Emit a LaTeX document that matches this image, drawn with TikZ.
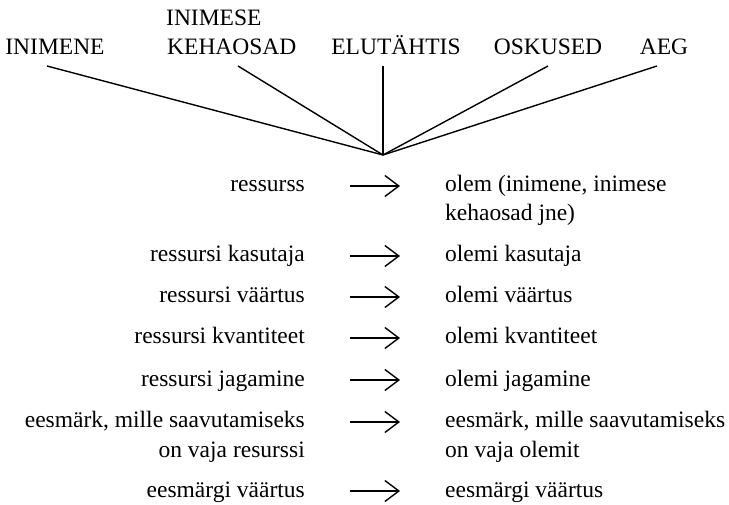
\documentclass[tikz,border=0pt]{standalone}
\usepackage{fontspec}
\setmainfont{Liberation Serif}
\usetikzlibrary{arrows.meta}
\tikzset{
  lbl/.style={inner sep=0pt, font=\fontsize{23.5}{29.5}\selectfont},
  top/.style={lbl, anchor=base},
  lft/.style={lbl, anchor=base east},
  rgt/.style={lbl, anchor=base west},
  ray/.style={line width=1.4pt},
  maps/.style={line width=1.4pt, -{Straight Barb[length=14pt,width=21pt,line width=1.4pt]}, shorten <=45pt, shorten >=45pt}
}
\begin{document}
\begin{tikzpicture}[x=1pt,y=-1pt]
\useasboundingbox (0,0) rectangle (729,505);
% top labels
\node[top] (inimene) at (55,55) {INIMENE};
\node[lbl, anchor=base west] (inimese) at (166,26) {INIMESE};
\node[lbl, anchor=base west] (kehaosad) at (167,55) {KEHAOSAD};
\node[top] (elu) at (396,55) {ELUTÄHTIS};
\node[top] (osk) at (548,55) {OSKUSED};
\node[top] (aeg) at (664,55) {AEG};
\coordinate (c) at (383,155);
\draw[ray] ([shift={(-8,11)}]inimene.base) -- (c);
\draw[ray] ([shift={(71,11)}]kehaosad.base west) -- (c);
\draw[ray] ([shift={(-13,11)}]elu.base) -- (c);
\draw[ray] ([shift={(0,11)}]osk.base) -- (c);
\draw[ray] ([shift={(-7,11)}]aeg.base) -- (c);
% rows
\node[lft] (l1) at (305,192) {ressurss};
\node[rgt] (r1) at (445,192) {olem (inimene, inimese};
\node[rgt] (r1b) at (445,221) {kehaosad jne)};
\node[lft] (l2) at (305,262) {ressursi kasutaja};
\node[rgt] (r2) at (445,262) {olemi kasutaja};
\node[lft] (l3) at (305,303) {ressursi väärtus};
\node[rgt] (r3) at (445,303) {olemi väärtus};
\node[lft] (l4) at (305,344) {ressursi kvantiteet};
\node[rgt] (r4) at (445,344) {olemi kvantiteet};
\node[lft] (l5) at (305,386) {ressursi jagamine};
\node[rgt] (r5) at (445,386) {olemi jagamine};
\node[lft] (l6) at (305,428) {eesmärk, mille saavutamiseks};
\node[lft] (l6b) at (305,457) {on vaja resurssi};
\node[rgt] (r6) at (445,428) {eesmärk, mille saavutamiseks};
\node[rgt] (r6b) at (445,457) {on vaja olemit};
\node[lft] (l7) at (305,497) {eesmärgi väärtus};
\node[rgt] (r7) at (445,497) {eesmärgi väärtus};
\foreach \i in {1,...,7}{
  \draw[maps] ([yshift=6pt]l\i.base east) -- ([yshift=6pt]r\i.base west);
}
\end{tikzpicture}
\end{document}
